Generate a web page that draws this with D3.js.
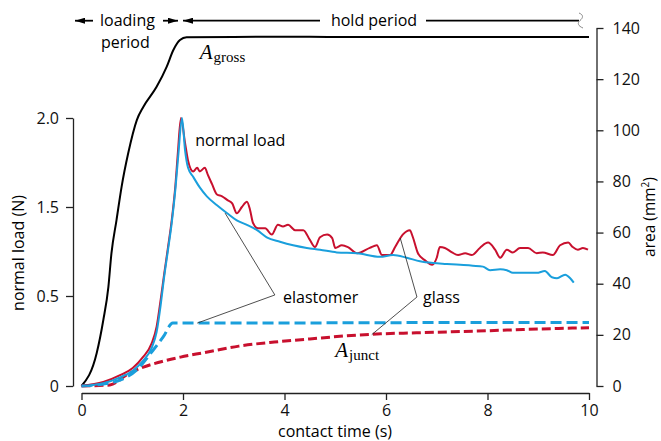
<!DOCTYPE html>
<html>
<head>
<meta charset="utf-8">
<script src="https://cdn.jsdelivr.net/npm/d3@7"></script>
<style>
  body { margin: 0; background: #fff; }
  text { font-family: "Open Sans", sans-serif; }
</style>
</head>
<body>
<div id="canvas"></div>
<script>
// time (s), area (mm²)
const grossArea = [[0,0],[0.30,12.9],[0.43,25.8],[0.53,38.8],[0.59,51.9],[0.69,64.9],[0.79,77.9],
  [0.92,91],[1.09,104],[1.22,109.2],[1.48,117],[1.68,124.9],[1.81,131.4],[1.94,135.3],[2.07,136.4],
  [3,136.5],[4,136.6],[5,136.5],[6,136.5],[7,136.5],[8,136.5],[9,136.5],[10,136.5]];

// time (s), normal load (N)
const glassLoad = [[0,0],[0.43,0.022],[0.76,0.06],[1.01,0.1],[1.21,0.16],[1.38,0.235],[1.48,0.33],
  [1.56,0.48],[1.63,0.75],[1.70,1.03],[1.78,1.36],[1.85,1.62],[1.90,1.81],[1.96,2.0],
  [2.04,1.86],[2.10,1.76],[2.20,1.70],[2.28,1.72],[2.33,1.70],[2.43,1.72],[2.49,1.68],[2.57,1.63],
  [2.67,1.57],[2.77,1.56],[2.87,1.54],[2.97,1.52],[3.06,1.43],[3.16,1.50],[3.26,1.53],[3.32,1.47],
  [3.38,1.32],[3.48,1.26],[3.62,1.26],[3.75,1.19],[3.87,1.30],[3.97,1.28],[4.07,1.30],[4.21,1.24],
  [4.37,1.24],[4.50,1.13],[4.60,1.05],[4.70,1.16],[4.84,1.19],[4.94,1.15],[5.00,1.04],[5.13,1.07],
  [5.25,1.05],[5.43,0.98],[5.68,1.04],[5.82,1.07],[5.92,0.96],[6.08,0.96],[6.18,1.05],[6.33,1.19],
  [6.47,1.24],[6.53,1.16],[6.63,0.98],[6.77,0.90],[6.91,0.85],[7.00,0.93],[7.06,1.05],[7.16,1.04],
  [7.30,0.99],[7.42,0.96],[7.56,0.98],[7.69,0.96],[7.85,1.04],[8.01,1.10],[8.15,1.02],[8.25,0.93],
  [8.38,1.02],[8.50,0.99],[8.64,1.04],[8.80,1.04],[8.97,0.98],[9.09,0.99],[9.29,0.96],[9.43,1.07],
  [9.59,1.10],[9.68,1.05],[9.78,1.02],[9.88,1.04],[9.98,1.02]];

const elastomerLoad = [[0,0],[0.43,0.015],[0.76,0.048],[1.01,0.085],[1.21,0.14],[1.38,0.21],[1.48,0.30],
  [1.56,0.45],[1.63,0.72],[1.70,1.0],[1.78,1.33],[1.85,1.6],[1.91,1.8],[1.98,2.0],
  [2.04,1.82],[2.10,1.72],[2.20,1.67],[2.33,1.61],[2.47,1.56],[2.67,1.51],[2.87,1.43],[3.06,1.35],
  [3.26,1.30],[3.46,1.24],[3.65,1.16],[3.91,1.11],[4.17,1.07],[4.44,1.04],[4.70,1.02],[5.03,0.99],
  [5.43,0.98],[5.88,0.94],[6.14,0.96],[6.41,0.93],[6.67,0.89],[6.93,0.87],[7.20,0.86],[7.46,0.85],
  [7.71,0.84],[7.91,0.83],[8.05,0.79],[8.25,0.80],[8.38,0.79],[8.50,0.76],[8.70,0.76],[8.97,0.76],
  [9.13,0.78],[9.27,0.71],[9.37,0.70],[9.53,0.74],[9.63,0.70],[9.70,0.65]];

// time (s), junction area (mm²)
const elastomerJunct = [[0,0],[0.43,0.8],[0.76,2.3],[1.09,6.3],[1.41,14],[1.61,19.2],[1.80,24.6],
  [3,24.6],[5,24.7],[7,24.8],[10,24.8]];
const glassJunct = [[0,0],[0.56,0.4],[0.9,4.5],[1.22,7.4],[1.55,9.4],[1.95,11.3],[2.4,13],[3.1,15.6],
  [3.8,17.2],[4.5,18.4],[5.2,19.6],[5.9,20.4],[6.6,20.8],[7.3,21.2],[8.0,21.6],[8.7,22.1],[9.4,22.5],[10,22.8]];

const timeTicks = [0, 2, 4, 6, 8, 10];
const loadTicks = [0, 0.5, 1.5, 2.0];
const loadTickLabels = ["0", "0.5", "1.5", "2.0"];
const areaTicks = [0, 20, 40, 60, 80, 100, 120, 140];

// leader lines, (time, area)
const elastomerLeader = [[2.83,67.6],[3.81,35.6],[2.28,24.6]];
const glassLeader = [[6.28,57.9],[6.61,34.8],[5.72,20.1]];

const width = 661;
const height = 441;
const red = "#c8102e";
const blue = "#1a9fdc";

const svg = d3.select("#canvas").append("svg")
  .attr("width", width)
  .attr("height", height);

const x = d3.scaleLinear().domain([0, 10]).range([81.5, 589]);
const yArea = d3.scaleLinear().domain([0, 140]).range([386, 28]);
// the load axis of the original is not evenly spaced
const yLoad = d3.scaleLinear().domain(loadTicks).range([386, 296, 207, 118]);

const axisStyle = (g) => {
  g.selectAll(".domain").attr("stroke", "#222").attr("stroke-width", 1.3);
  g.selectAll(".tick line").attr("stroke", "#222").attr("stroke-width", 1.3);
  g.selectAll("text").attr("font-size", 16).attr("fill", "#111");
};

svg.append("g").attr("transform", "translate(0,393)")
  .call(d3.axisBottom(x).tickValues(timeTicks).tickSize(7).tickSizeOuter(0).tickPadding(5))
  .call(axisStyle);

svg.append("g").attr("transform", "translate(73,0)")
  .call(d3.axisLeft(yLoad).tickValues(loadTicks).tickSize(7).tickSizeOuter(0).tickPadding(7)
    .tickFormat((d, i) => loadTickLabels[i]))
  .call(axisStyle);

svg.append("g").attr("transform", "translate(596.5,0)")
  .call(d3.axisRight(yArea).tickValues(areaTicks).tickSize(7).tickSizeOuter(0).tickPadding(9))
  .call(axisStyle);

// axis titles
svg.append("text").attr("x", 335).attr("y", 437).attr("text-anchor", "middle")
  .attr("font-size", 16).text("contact time (s)");
svg.append("text").attr("transform", "translate(24,253) rotate(-90)").attr("text-anchor", "middle")
  .attr("font-size", 16).text("normal load (N)");
const areaTitle = svg.append("text").attr("transform", "translate(655,217) rotate(-90)")
  .attr("text-anchor", "middle").attr("font-size", 15.5);
areaTitle.append("tspan").text("area (mm");
areaTitle.append("tspan").attr("font-size", 10).attr("dy", -6).text("2");
areaTitle.append("tspan").attr("dy", 6).text(")");

const areaLine = d3.line().x((d) => x(d[0])).y((d) => yArea(d[1])).curve(d3.curveMonotoneX);
const loadLine = d3.line().x((d) => x(d[0])).y((d) => yLoad(d[1])).curve(d3.curveMonotoneX);
const plain = d3.line().x((d) => x(d[0])).y((d) => yArea(d[1]));

// curves
svg.append("path").attr("d", areaLine(grossArea))
  .attr("fill", "none").attr("stroke", "#000").attr("stroke-width", 2);
svg.append("path").attr("d", areaLine(glassJunct))
  .attr("fill", "none").attr("stroke", red).attr("stroke-width", 3).attr("stroke-dasharray", "9,4");
svg.append("path").attr("d", areaLine(elastomerJunct))
  .attr("fill", "none").attr("stroke", blue).attr("stroke-width", 3).attr("stroke-dasharray", "11,5");
svg.append("path").attr("d", loadLine(glassLoad))
  .attr("fill", "none").attr("stroke", red).attr("stroke-width", 2);
svg.append("path").attr("d", loadLine(elastomerLoad))
  .attr("fill", "none").attr("stroke", blue).attr("stroke-width", 2);

// leaders
[elastomerLeader, glassLeader].forEach((l) => {
  svg.append("path").attr("d", plain(l))
    .attr("fill", "none").attr("stroke", "#222").attr("stroke-width", 0.8);
});

svg.append("text").attr("x", x(2.24)).attr("y", yArea(93.9)).attr("font-size", 16).text("normal load");
svg.append("text").attr("x", x(3.97)).attr("y", yArea(32.3)).attr("font-size", 16).text("elastomer");
svg.append("text").attr("x", x(6.73)).attr("y", yArea(32.3)).attr("font-size", 16).text("glass");

const mathLabel = (t, a, sub) => {
  const el = svg.append("text").attr("x", x(t)).attr("y", yArea(a))
    .style("font-family", "'Liberation Serif', 'DejaVu Serif', serif");
  el.append("tspan").style("font-style", "italic").attr("font-size", 21).text("A");
  el.append("tspan").attr("font-size", 15).attr("dy", 3).attr("dx", 1).text(sub);
};
mathLabel(2.33, 128, "gross");
mathLabel(5.0, 11.3, "junct");

// loading / hold period header
const defs = svg.append("defs");
defs.append("marker").attr("id", "head")
  .attr("viewBox", "0 0 10 6").attr("refX", 10).attr("refY", 3)
  .attr("markerUnits", "userSpaceOnUse").attr("markerWidth", 10).attr("markerHeight", 6)
  .attr("orient", "auto")
  .append("path").attr("d", "M0,0L10,3L0,6Z").attr("fill", "#000");

const topY = 20.7;
const arrow = (x1, x2, head) => {
  const ln = svg.append("line").attr("x1", x1).attr("x2", x2).attr("y1", topY).attr("y2", topY)
    .attr("stroke", "#000").attr("stroke-width", 1.8);
  if (head) ln.attr("marker-end", "url(#head)");
};
arrow(93, 75, true);
arrow(163, 178, true);
arrow(320, 183, true);
arrow(426, 579, false);
svg.append("path").attr("d", "M579,13 C584,15 583,18 580,20.5 C577,23 578,26 583,28")
  .attr("fill", "none").attr("stroke", "#888").attr("stroke-width", 1);

svg.append("text").attr("x", 100).attr("y", 25.5).attr("font-size", 16).text("loading");
svg.append("text").attr("x", 101).attr("y", 48).attr("font-size", 16).text("period");
svg.append("text").attr("x", 374).attr("y", 25.5).attr("text-anchor", "middle")
  .attr("font-size", 16).text("hold period");
</script>
</body>
</html>
